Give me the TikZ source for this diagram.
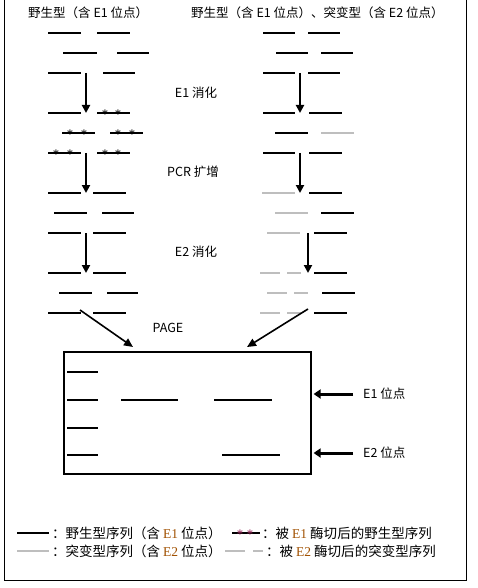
\documentclass[tikz,border=0pt]{standalone}
\usepackage{fontspec}
\setmainfont{Noto Sans CJK SC}
\newfontfamily\latinserif{Liberation Serif}
\usetikzlibrary{arrows.meta}
\definecolor{mgray}{RGB}{190,190,190}
\definecolor{ecol}{RGB}{160,80,0}
\definecolor{scol}{RGB}{150,40,90}
\tikzset{
  wt/.style={line width=2pt},
  mt/.style={line width=2pt,draw=mgray},
  astk/.style={inner sep=0pt,font=\boldmath\fontsize{13}{13}\selectfont},
  flowarr/.style={line width=2.5pt,-{Triangle[length=8pt,width=8pt]}},
  gelarr/.style={line width=1.6pt,-{Triangle[length=9pt,width=8pt]}},
  sitearr/.style={line width=3pt,-{Triangle[length=7pt,width=9pt]}},
  lbl/.style={inner sep=1pt,font=\fontsize{12.5}{14}\selectfont},
  leg/.style={inner sep=0pt,anchor=west,font=\fontsize{13.5}{15}\selectfont}
}
\newcommand{\Eleg}[1]{{\latinserif\color{ecol}#1}}
\begin{document}
\begin{tikzpicture}[x=1pt,y=-1pt]
\useasboundingbox (0,0) rectangle (478,588);
% frame
\draw[line width=1pt] (4,0) -- (4,580) -- (466,580) -- (466,0);

% titles
\node[lbl,anchor=west] (tl) at (27,13) {野生型（含 E1 位点）};
\node[lbl,anchor=west] (tr) at (190,13) {野生型（含 E1 位点）、突变型（含 E2 位点）};

% left column
\foreach \y/\a/\b/\c/\d in {33/48/81/97/130, 53/63/97/117/149, 73/48/81/103/135,
  113/48/81/97/130, 133/62/95/110/143, 153/48/81/97/130,
  193/48/81/93/126, 213/54/87/102/134, 233/48/81/93/126,
  273/48/81/93/126, 293/59/92/107/138, 313/48/81/93/126}
  \draw[wt] (\a,\y) -- (\b,\y) (\c,\y) -- (\d,\y);
\foreach \x/\y [count=\i] in {105/113, 118/113, 70/133, 84/133, 118/133, 132/133,
  56/153, 70/153, 105/153, 118/153}
  \node[astk] (st\i) at (\x,\y) {$\ast$};

% right column
\foreach \y/\a/\b/\c/\d in {33/263/295/308/340, 53/276/308/321/353, 73/263/295/308/340,
  113/263/295/309/342, 153/263/295/309/342}
  \draw[wt] (\a,\y) -- (\b,\y) (\c,\y) -- (\d,\y);
\draw[wt] (275,133) -- (308,133);
\draw[mt] (321,133) -- (354,133);
\foreach \y/\a/\b/\c/\d in {193/262/295/309/342, 213/275/308/321/354, 233/267/300/314/347}{
  \draw[mt] (\a,\y) -- (\b,\y);
  \draw[wt] (\c,\y) -- (\d,\y);
}
\foreach \y/\a/\b/\c/\d/\e/\f in {273/260/280/287/301/314/347,
  293/267/287/294/308/322/355, 313/260/280/287/301/314/347}{
  \draw[mt] (\a,\y) -- (\b,\y) (\c,\y) -- (\d,\y);
  \draw[wt] (\e,\y) -- (\f,\y);
}

% process arrows
\coordinate (la1) at (86,73);  \coordinate (lb1) at (86,113);
\coordinate (la2) at (86,153); \coordinate (lb2) at (86,193);
\coordinate (la3) at (86,233); \coordinate (lb3) at (86,273);
\coordinate (ra1) at (300,73);  \coordinate (rb1) at (300,113);
\coordinate (ra2) at (300,153); \coordinate (rb2) at (300,193);
\coordinate (ra3) at (308,233); \coordinate (rb3) at (308,273);
\foreach \i in {1,2,3}{
  \draw[flowarr] (la\i) -- (lb\i);
  \draw[flowarr] (ra\i) -- (rb\i);
}

\node[lbl] (e1d) at (196,93) {E1 消化};
\node[lbl] (pcr) at (193,172) {PCR 扩增};
\node[lbl] (e2d) at (196,252) {E2 消化};
\node[lbl] (page) at (168,328) {PAGE};

% gel
\node[draw,line width=1.6pt,minimum width=247pt,minimum height=122pt,
  inner sep=0pt,anchor=north west] (gel) at (63,351) {};
\coordinate (pl0) at (80,310);  \coordinate (pl1) at (133,347);
\coordinate (pr0) at (308,309); \coordinate (pr1) at (247,347);
\draw[gelarr] (pl0) -- (pl1);
\draw[gelarr] (pr0) -- (pr1);
\foreach \y in {372,400,428,455}
  \draw[wt] (67,\y) -- (98,\y);
\draw[wt] (121,400) -- (178,400);
\draw[wt] (214,400) -- (272,400);
\draw[wt] (222,455) -- (280,455);

\node[lbl,anchor=west] (s1) at (362,394) {E1 位点};
\node[lbl,anchor=west] (s2) at (362,453) {E2 位点};
\draw[sitearr] ([xshift=-9pt]s1.west) -- ([xshift=2pt]gel.east |- s1.west);
\draw[sitearr] ([xshift=-9pt]s2.west) -- ([xshift=2pt]gel.east |- s2.west);

% legend
\draw[wt] (17,533) -- (49,533);
\node[leg] (k1) at (52,533) {：野生型序列（含 \Eleg{E1} 位点）};
\draw[wt] (232,533) -- (260,533);
\node[astk,text=scol] (ks1) at (240,533) {$\ast$};
\node[astk,text=scol] (ks2) at (250,533) {$\ast$};
\node[leg] (k2) at (262,533) {：被 \Eleg{E1} 酶切后的野生型序列};
\draw[mt] (17,551) -- (49,551);
\node[leg] (k3) at (52,551) {：突变型序列（含 \Eleg{E2} 位点）};
\draw[mt] (225,551) -- (245,551) (253,551) -- (263,551);
\node[leg] (k4) at (266,551) {：被 \Eleg{E2} 酶切后的突变型序列};
\end{tikzpicture}
\end{document}
